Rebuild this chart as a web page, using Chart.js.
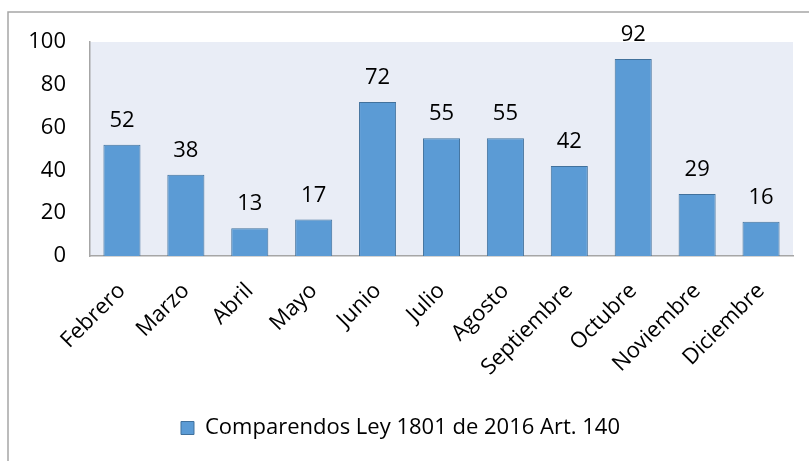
<!DOCTYPE html>
<html>
<head>
<meta charset="utf-8">
<script src="https://cdn.jsdelivr.net/npm/chart.js@4/dist/chart.umd.min.js"></script>
<style>
  html, body { margin: 0; padding: 0; background: #fff; }
  #wrap { position: relative; width: 809px; height: 461px; }
</style>
</head>
<body>
<div id="wrap"><canvas id="myChart" width="809" height="461"></canvas></div>
<script>
const meses = ["Febrero", "Marzo", "Abril", "Mayo", "Junio", "Julio", "Agosto",
  "Septiembre", "Octubre", "Noviembre", "Diciembre"];
const comparendos = [52, 38, 13, 17, 72, 55, 55, 42, 92, 29, 16];
const serie = "Comparendos Ley 1801 de 2016 Art. 140";

const fuente = "'Open Sans', 'Noto Sans', sans-serif";

// fondo, borde exterior y area del grafico
const fondo = {
  id: "fondo",
  beforeDraw(chart) {
    const c = chart.ctx;
    const a = chart.chartArea;
    c.save();
    c.fillStyle = "#ffffff";
    c.fillRect(0, 0, chart.width, chart.height);
    c.strokeStyle = "#a6a6a6";
    c.lineWidth = 1.5;
    c.beginPath();
    c.moveTo(8, chart.height);
    c.lineTo(8, 12);
    c.lineTo(chart.width, 12);
    c.stroke();
    c.fillStyle = "#e9edf6";
    c.fillRect(a.left, a.top, a.right - a.left, a.bottom - a.top);
    c.restore();
  },
};

// valores encima de cada barra
const etiquetas = {
  id: "etiquetas",
  afterDatasetsDraw(chart) {
    const c = chart.ctx;
    const meta = chart.getDatasetMeta(0);
    c.save();
    c.font = "22px " + fuente;
    c.fillStyle = "#000";
    c.textAlign = "center";
    c.textBaseline = "alphabetic";
    meta.data.forEach((bar, i) => {
      c.fillText(String(comparendos[i]), bar.x, bar.y - 18);
    });
    c.restore();
  },
};

new Chart(document.getElementById("myChart"), {
  type: "bar",
  data: {
    labels: meses,
    datasets: [
      {
        label: serie,
        data: comparendos,
        backgroundColor: "#5b9bd5",
        borderColor: "#41719c",
        borderWidth: 1,
        barPercentage: 0.58,
        categoryPercentage: 1,
      },
    ],
  },
  options: {
    responsive: false,
    animation: false,
    layout: { padding: { top: 42, left: 8, right: 16, bottom: 12 } },
    plugins: {
      legend: {
        position: "bottom",
        labels: {
          boxWidth: 13,
          boxHeight: 13,
          padding: 10,
          color: "#000",
          font: { family: fuente, size: 22 },
        },
      },
      tooltip: { enabled: false },
    },
    scales: {
      y: {
        min: 0,
        max: 100,
        ticks: {
          stepSize: 20,
          padding: 24,
          color: "#000",
          font: { family: fuente, size: 22 },
        },
        grid: { display: false, drawTicks: false },
        border: { display: true, color: "#a6a6a6", width: 1.5 },
        afterFit(scale) { scale.width = 82; },
      },
      x: {
        ticks: {
          minRotation: 45,
          maxRotation: 45,
          padding: 22,
          color: "#000",
          font: { family: fuente, size: 22 },
        },
        grid: { display: false, drawTicks: false },
        border: { display: true, color: "#a6a6a6", width: 1.5 },
        afterFit(scale) { scale.height = 151; },
      },
    },
  },
  plugins: [fondo, etiquetas],
});
</script>
</body>
</html>
